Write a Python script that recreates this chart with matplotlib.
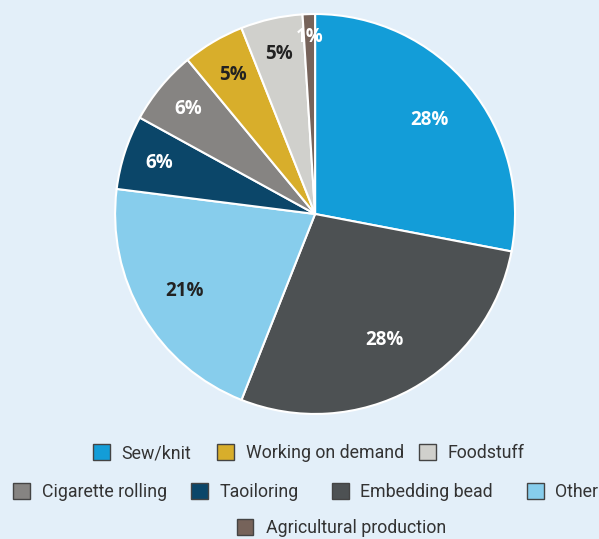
import numpy as np
import matplotlib
matplotlib.use("Agg")
import matplotlib.pyplot as plt
from matplotlib.patches import Rectangle

categories = ["Sew/knit", "Embedding bead", "Other", "Taoiloring",
              "Cigarette rolling", "Working on demand", "Foodstuff",
              "Agricultural production"]
values = [28, 28, 21, 6, 6, 5, 5, 1]
labels = ["28%", "28%", "21%", "6%", "6%", "5%", "5%", "1%"]

colors = ["#139dd8", "#4d5153", "#87cdec", "#0b4669",
          "#868482", "#d8ae2b", "#d0d0cc", "#76635a"]
label_colors = ["white", "white", "#222222", "white",
                "white", "#222222", "#222222", "white"]
label_dist = [0.74, 0.72, 0.76, 0.82, 0.82, 0.81, 0.82, 0.885]

bg = "#e3eff9"
plt.rcParams['font.family'] = ['Roboto', 'DejaVu Sans']

W, H = 599, 539
fig = plt.figure(figsize=(W / 100, H / 100), dpi=100, facecolor=bg)
ax = fig.add_axes([0.192, 0.232, 0.668, 0.742])
ax.set_facecolor(bg)
wedges, _ = ax.pie(values, colors=colors, startangle=90, counterclock=False,
                   wedgeprops=dict(edgecolor="white", linewidth=1.5))
ax.set_xlim(-1, 1)
ax.set_ylim(-1, 1)
ax.set_aspect('equal')

for w, lab, c, d in zip(wedges, labels, label_colors, label_dist):
    ang = np.deg2rad((w.theta1 + w.theta2) / 2)
    ax.text(d * np.cos(ang), d * np.sin(ang), lab, ha='center', va='center',
            color=c, fontsize=13.5, fontweight='bold',
            family=['Open Sans', 'DejaVu Sans'])

# legend layout (pixel positions of each entry: marker left x, row centre y)
legend_rows = [
    [("Sew/knit", 93), ("Working on demand", 217), ("Foodstuff", 419)],
    [("Cigarette rolling", 13), ("Taoiloring", 191), ("Embedding bead", 332), ("Other", 527)],
    [("Agricultural production", 237)],
]
row_y = [452, 491, 527]
color_of = dict(zip(categories, colors))
msize = 16.5
for row, yc in zip(legend_rows, row_y):
    for name, xl in row:
        fig.add_artist(Rectangle((xl / W, (H - yc - msize / 2) / H), msize / W, msize / H,
                                 transform=fig.transFigure, facecolor=color_of[name],
                                 edgecolor="#444444", linewidth=1.0))
        fig.text((xl + msize + 12) / W, (H - yc - 6) / H, name, ha='left', va='baseline',
                 fontsize=12.8, color="#333333")

fig.savefig("out.png", dpi=100, facecolor=bg)
